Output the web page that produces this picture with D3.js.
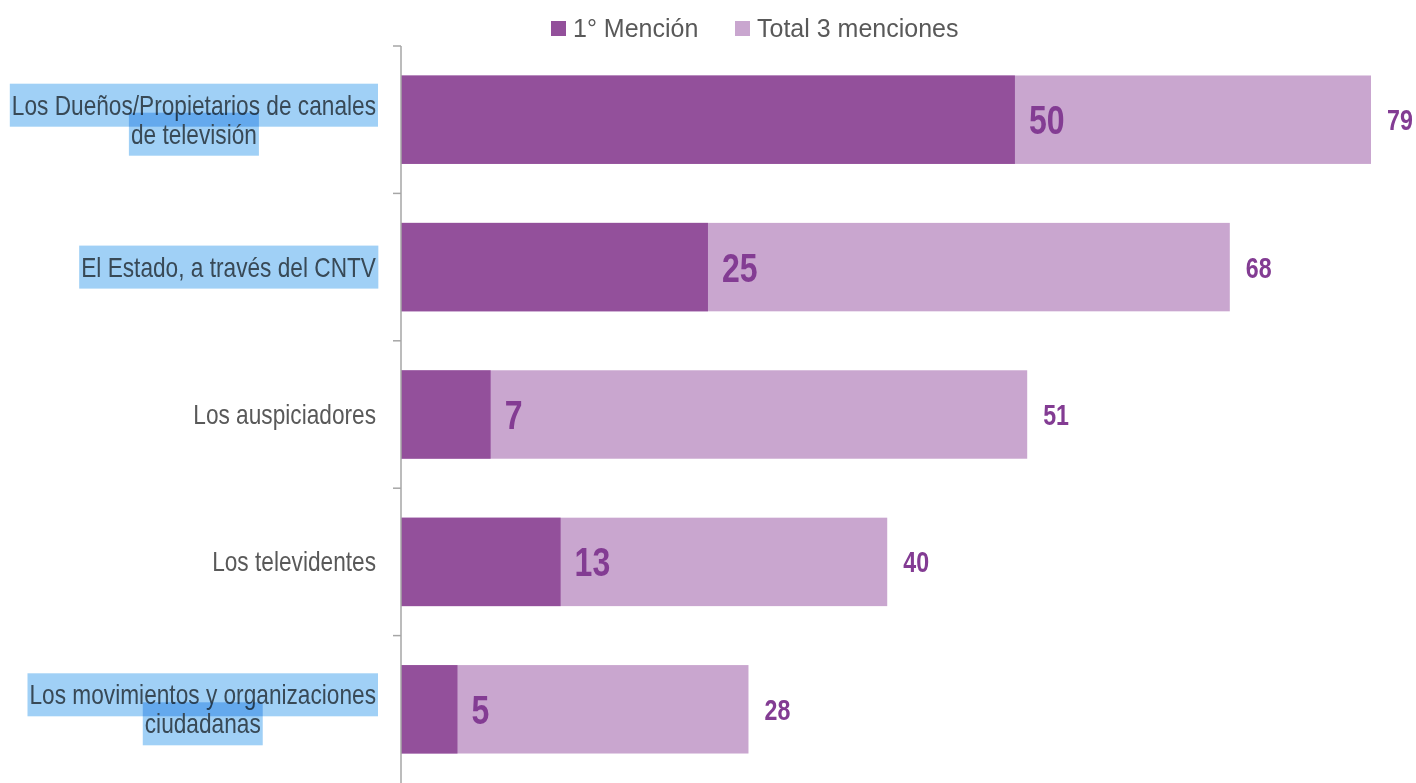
<!DOCTYPE html>
<html lang="es">
<head>
  <meta charset="UTF-8">
  <title>Menciones</title>
  <script src="https://d3js.org/d3.v7.min.js"></script>
  <style>
    body { margin: 0; background: #fff; }
    svg { display: block; }
    text { font-family: "Liberation Sans Narrow", "Arial Narrow", "Liberation Sans", Arial, sans-serif; }
    .cat { fill: #595959; font-size: 27px; }
    .hl { fill: rgb(160, 208, 246); mix-blend-mode: multiply; }
    .val { fill: #833c93; font-weight: bold; }
    .legend text { fill: #595959; font-size: 25px; }
  </style>
</head>
<body>
<svg id="chart" width="1416" height="783"></svg>
<script>
  // data
  const categories = [
    'Los Dueños/Propietarios de canales\nde televisión',
    'El Estado, a través del CNTV',
    'Los auspiciadores',
    'Los televidentes',
    'Los movimientos y organizaciones\nciudadanas'
  ];
  const firstMention = [50, 25, 7.3, 13, 4.6];
  const totalMentions = [79, 67.5, 51, 39.6, 28.3];
  const highlighted = [true, true, false, false, true];
  const seriesNames = ['1° Mención', 'Total 3 menciones'];
  const colors = ['#93509b', '#c9a6cf'];

  const svg = d3.select('#chart');
  const rows = categories.map((c, i) => ({ cat: c, first: firstMention[i], total: totalMentions[i], hl: highlighted[i] }));

  // no narrow font installed, so squeeze the regular one
  const narrow = 0.84;

  const x = d3.scaleLinear().domain([0, 79]).range([401, 1371]);
  const y = d3.scaleBand().domain(categories).range([46, 783]).padding(0);
  const barH = y.bandwidth() * 0.6;
  const barY = d => y(d.cat) + (y.bandwidth() - barH) / 2;

  // total bars (light) with dark first-mention bars over them
  svg.append('g').selectAll('rect')
    .data(rows).join('rect')
    .attr('x', x(0)).attr('y', barY)
    .attr('width', d => x(d.total) - x(0)).attr('height', barH)
    .attr('fill', colors[1]);

  svg.append('g').selectAll('rect')
    .data(rows).join('rect')
    .attr('x', x(0)).attr('y', barY)
    .attr('width', d => x(d.first) - x(0)).attr('height', barH)
    .attr('fill', colors[0]);

  // axis line with ticks on the band edges
  const axis = svg.append('g').attr('stroke', '#a6a6a6').attr('stroke-width', 1.5);
  axis.append('line').attr('x1', x(0)).attr('x2', x(0)).attr('y1', 46).attr('y2', 783);
  axis.selectAll('.tk').data(categories).join('line').attr('class', 'tk')
    .attr('x1', x(0) - 8).attr('x2', x(0)).attr('y1', d => y(d)).attr('y2', d => y(d));

  // value labels
  svg.append('g').selectAll('text')
    .data(rows).join('text').attr('class', 'val')
    .attr('transform', d => `translate(${x(d.first) + 14},${barY(d) + barH / 2}) scale(0.8,1)`)
    .attr('dy', '0.36em').style('font-size', '40px')
    .text(d => Math.round(d.first));

  svg.append('g').selectAll('text')
    .data(rows).join('text').attr('class', 'val')
    .attr('transform', d => `translate(${x(d.total) + 16},${barY(d) + barH / 2}) scale(0.8,1)`)
    .attr('dy', '0.36em').style('font-size', '29px')
    .text(d => Math.round(d.total));

  // category labels, with the selection highlight on some of them
  const labels = svg.append('g');
  rows.forEach(d => {
    const lines = d.cat.split('\n');
    const cy = y(d.cat) + y.bandwidth() / 2;
    const lineH = 29;
    let firstBox = null;
    lines.forEach((ln, j) => {
      const ly = cy + (j - (lines.length - 1) / 2) * lineH;
      let lx = 376, anchor = 'end';
      if (j > 0) {
        // later lines are centred under the first one
        lx = firstBox.left + firstBox.width / 2;
        anchor = 'middle';
      }
      const t = labels.append('text').attr('class', 'cat')
        .attr('transform', `translate(${lx},${ly}) scale(${narrow},1)`)
        .attr('dy', '0.35em')
        .attr('text-anchor', anchor)
        .text(ln);
      const b = t.node().getBoundingClientRect();
      if (j === 0) firstBox = b;
      if (d.hl) {
        labels.append('rect').attr('class', 'hl')
          .attr('x', b.left - 2).attr('y', ly - 21.5)
          .attr('width', b.width + 4).attr('height', 43);
      }
    });
  });

  // legend
  const legend = svg.append('g').attr('class', 'legend');
  const legX = [551, 735];
  seriesNames.forEach((s, i) => {
    legend.append('rect').attr('x', legX[i]).attr('y', 21).attr('width', 15).attr('height', 15).attr('fill', colors[i]);
    legend.append('text').attr('x', legX[i] + 22).attr('y', 28).attr('dy', '0.36em').text(s);
  });
</script>
</body>
</html>
